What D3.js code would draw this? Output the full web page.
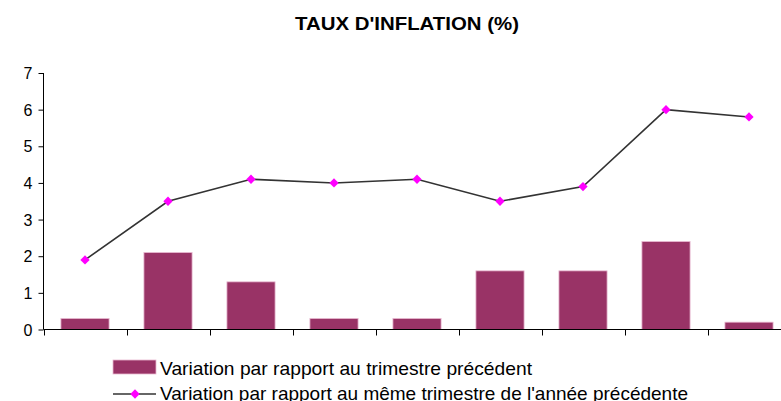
<!DOCTYPE html>
<html>
<head>
<meta charset="utf-8">
<script src="https://cdn.jsdelivr.net/npm/d3@7"></script>
<style>
    body { margin: 0; background: #fff; }
    svg text { font-family: "Liberation Sans", Arial, sans-serif; fill: #000; }
</style>
</head>
<body>
<svg id="chart" width="781" height="401"></svg>
<script>
// Data
const quarters = ["T1", "T2", "T3", "T4", "T5", "T6", "T7", "T8", "T9"];
const quarterly = [0.3, 2.1, 1.3, 0.3, 0.3, 1.6, 1.6, 2.4, 0.2];
const yearly    = [1.9, 3.5, 4.1, 4.0, 4.1, 3.5, 3.9, 6.0, 5.8];
const yTicks    = [0, 1, 2, 3, 4, 5, 6, 7];

const title       = "TAUX D'INFLATION (%)";
const legendBars  = "Variation par rapport au trimestre précédent";
const legendLine  = "Variation par rapport au même trimestre de l'année précédente";

const svg = d3.select("#chart");

// Scales
let x = d3.scaleBand()
    .domain(quarters)
    .range([43.5, 790.5])
    .paddingInner(0.42)
    .paddingOuter(0.21);

let y = d3.scaleLinear()
    .domain([0, 7])
    .range([329.5, 73]);

// Title
svg.append("text")
    .attr("x", 295)
    .attr("y", 30)
    .attr("textLength", 224)
    .attr("lengthAdjust", "spacingAndGlyphs")
    .style("font-size", "19px")
    .style("font-weight", "bold")
    .text(title);

// Bars
svg.append("g")
    .selectAll("rect")
    .data(quarterly)
    .join("rect")
    .attr("x", (d, i) => x(quarters[i]))
    .attr("y", d => y(d))
    .attr("width", x.bandwidth())
    .attr("height", d => y(0) - y(d))
    .attr("fill", "#993366")
    .attr("stroke", "#e8b8d0")
    .attr("stroke-width", 0.8);

// Y axis
let yAxis = svg.append("g")
    .attr("transform", "translate(43.5,0)")
    .call(d3.axisLeft(y).tickValues(yTicks).tickSize(5).tickPadding(6).tickFormat(d3.format("d")));

yAxis.selectAll("text").style("font-size", "16px").attr("dy", "0.35em");
yAxis.select(".domain").attr("stroke", "#000").attr("d", "M0," + y(7) + "V" + y(0));
yAxis.selectAll(".tick line").attr("stroke", "#000");

// X axis: ticks between categories, no labels
let xEdges = quarters.map(q => x(q) - x.step() * x.paddingInner() / 2).concat([790.5]);

svg.append("line")
    .attr("x1", 43.5).attr("x2", 790.5)
    .attr("y1", y(0)).attr("y2", y(0))
    .attr("stroke", "#000");

svg.append("g")
    .selectAll("line")
    .data(xEdges)
    .join("line")
    .attr("x1", d => Math.round(d) + 0.5)
    .attr("x2", d => Math.round(d) + 0.5)
    .attr("y1", y(0))
    .attr("y2", y(0) + 6)
    .attr("stroke", "#000");

// Line series
let cx = i => x(quarters[i]) + x.bandwidth() / 2;

let line = d3.line()
    .x((d, i) => cx(i))
    .y(d => y(d));

svg.append("path")
    .datum(yearly)
    .attr("d", line)
    .attr("fill", "none")
    .attr("stroke", "#333")
    .attr("stroke-width", 1.6);

let diamond = d3.symbol().type(d3.symbolDiamond2).size(55);

svg.append("g")
    .selectAll("path")
    .data(yearly)
    .join("path")
    .attr("transform", (d, i) => "translate(" + cx(i) + "," + y(d) + ")")
    .attr("d", diamond)
    .attr("fill", "#ff00ff");

// Legend
let legend = svg.append("g");

legend.append("rect")
    .attr("x", 113)
    .attr("y", 360)
    .attr("width", 43)
    .attr("height", 14)
    .attr("fill", "#993366")
    .attr("stroke", "#e8b8d0")
    .attr("stroke-width", 0.8);

legend.append("text")
    .attr("x", 160)
    .attr("y", 375)
    .attr("textLength", 372)
    .attr("lengthAdjust", "spacingAndGlyphs")
    .style("font-size", "19px")
    .text(legendBars);

legend.append("line")
    .attr("x1", 113).attr("x2", 156)
    .attr("y1", 394).attr("y2", 394)
    .attr("stroke", "#333")
    .attr("stroke-width", 1.6);

legend.append("path")
    .attr("transform", "translate(135,394)")
    .attr("d", diamond)
    .attr("fill", "#ff00ff");

legend.append("text")
    .attr("x", 160)
    .attr("y", 400)
    .attr("textLength", 528)
    .attr("lengthAdjust", "spacingAndGlyphs")
    .style("font-size", "19px")
    .text(legendLine);
</script>
</body>
</html>
